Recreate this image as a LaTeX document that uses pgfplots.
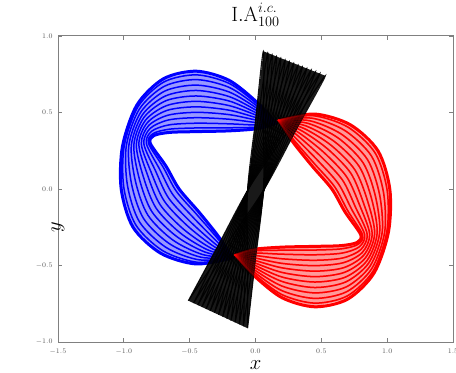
\documentclass[border=0pt]{standalone}
\usepackage{pgfplots}
\usepackage{pgfplotstable}
\pgfplotsset{compat=1.18}

% Orbit of body 1 (blue): 13 loops, 12 points each (columns xk yk = loop k)
\pgfplotstableread{
x0 y0 x1 y1 x2 y2 x3 y3 x4 y4 x5 y5 x6 y6 x7 y7 x8 y8 x9 y9 x10 y10 x11 y11 x12 y12
0.16 0.43 0.16 0.43 0.16 0.43 0.16 0.43 0.16 0.43 0.16 0.43 0.16 0.43 0.16 0.43 0.16 0.43 0.16 0.43 0.16 0.43 0.16 0.43 0.16 0.43
0.02 0.395 0.02 0.405 0.02 0.418 0.02 0.433 0.02 0.448 0.02 0.463 0.02 0.478 0.02 0.492 0.02 0.507 0.02 0.522 0.02 0.537 0.02 0.550 0.02 0.560
-0.20 0.380 -0.20 0.400 -0.20 0.426 -0.20 0.456 -0.20 0.486 -0.20 0.515 -0.20 0.545 -0.20 0.575 -0.20 0.604 -0.20 0.634 -0.20 0.664 -0.20 0.690 -0.20 0.710
-0.45 0.375 -0.45 0.399 -0.45 0.430 -0.45 0.466 -0.45 0.501 -0.45 0.537 -0.45 0.573 -0.45 0.608 -0.45 0.644 -0.45 0.679 -0.45 0.715 -0.45 0.746 -0.45 0.770
-0.650 0.370 -0.653 0.391 -0.657 0.419 -0.662 0.451 -0.666 0.482 -0.671 0.514 -0.675 0.545 -0.680 0.577 -0.684 0.608 -0.689 0.640 -0.693 0.671 -0.697 0.699 -0.700 0.720
-0.770 0.350 -0.778 0.362 -0.788 0.378 -0.800 0.396 -0.812 0.414 -0.823 0.432 -0.835 0.450 -0.847 0.468 -0.858 0.486 -0.870 0.504 -0.882 0.522 -0.892 0.538 -0.900 0.550
-0.800 0.300 -0.813 0.299 -0.829 0.297 -0.848 0.295 -0.867 0.294 -0.886 0.292 -0.905 0.290 -0.924 0.288 -0.943 0.286 -0.962 0.285 -0.981 0.283 -0.997 0.281 -1.010 0.280
-0.680 0.150 -0.700 0.141 -0.728 0.129 -0.758 0.116 -0.789 0.102 -0.819 0.089 -0.850 0.075 -0.881 0.062 -0.911 0.048 -0.942 0.035 -0.972 0.021 -1.000 0.009 -1.020 0.000
-0.580 0.000 -0.601 -0.015 -0.629 -0.035 -0.661 -0.058 -0.692 -0.080 -0.724 -0.103 -0.755 -0.125 -0.787 -0.148 -0.818 -0.170 -0.850 -0.193 -0.881 -0.215 -0.909 -0.235 -0.930 -0.250
-0.430 -0.150 -0.447 -0.166 -0.471 -0.188 -0.497 -0.212 -0.523 -0.236 -0.549 -0.261 -0.575 -0.285 -0.601 -0.309 -0.627 -0.334 -0.653 -0.358 -0.679 -0.382 -0.703 -0.404 -0.720 -0.420
-0.290 -0.300 -0.300 -0.311 -0.312 -0.327 -0.327 -0.344 -0.341 -0.361 -0.356 -0.378 -0.370 -0.395 -0.384 -0.412 -0.399 -0.429 -0.413 -0.446 -0.428 -0.463 -0.440 -0.479 -0.450 -0.490
-0.17 -0.45 -0.17 -0.45 -0.17 -0.45 -0.17 -0.45 -0.17 -0.45 -0.17 -0.45 -0.17 -0.45 -0.17 -0.45 -0.17 -0.45 -0.17 -0.45 -0.17 -0.45 -0.17 -0.45 -0.17 -0.45
}\blueorbit

% Orbit of body 2 (red)
\pgfplotstableread{
x0 y0 x1 y1 x2 y2 x3 y3 x4 y4 x5 y5 x6 y6 x7 y7 x8 y8 x9 y9 x10 y10 x11 y11 x12 y12
-0.16 -0.43 -0.16 -0.43 -0.16 -0.43 -0.16 -0.43 -0.16 -0.43 -0.16 -0.43 -0.16 -0.43 -0.16 -0.43 -0.16 -0.43 -0.16 -0.43 -0.16 -0.43 -0.16 -0.43 -0.16 -0.43
-0.02 -0.395 -0.02 -0.405 -0.02 -0.418 -0.02 -0.433 -0.02 -0.448 -0.02 -0.463 -0.02 -0.478 -0.02 -0.492 -0.02 -0.507 -0.02 -0.522 -0.02 -0.537 -0.02 -0.550 -0.02 -0.560
0.20 -0.380 0.20 -0.400 0.20 -0.426 0.20 -0.456 0.20 -0.486 0.20 -0.515 0.20 -0.545 0.20 -0.575 0.20 -0.604 0.20 -0.634 0.20 -0.664 0.20 -0.690 0.20 -0.710
0.45 -0.375 0.45 -0.399 0.45 -0.430 0.45 -0.466 0.45 -0.501 0.45 -0.537 0.45 -0.573 0.45 -0.608 0.45 -0.644 0.45 -0.679 0.45 -0.715 0.45 -0.746 0.45 -0.770
0.650 -0.370 0.653 -0.391 0.657 -0.419 0.662 -0.451 0.666 -0.482 0.671 -0.514 0.675 -0.545 0.680 -0.577 0.684 -0.608 0.689 -0.640 0.693 -0.671 0.697 -0.699 0.700 -0.720
0.770 -0.350 0.778 -0.362 0.788 -0.378 0.800 -0.396 0.812 -0.414 0.823 -0.432 0.835 -0.450 0.847 -0.468 0.858 -0.486 0.870 -0.504 0.882 -0.522 0.892 -0.538 0.900 -0.550
0.800 -0.300 0.813 -0.299 0.829 -0.297 0.848 -0.295 0.867 -0.294 0.886 -0.292 0.905 -0.290 0.924 -0.288 0.943 -0.286 0.962 -0.285 0.981 -0.283 0.997 -0.281 1.010 -0.280
0.680 -0.150 0.700 -0.141 0.728 -0.129 0.758 -0.116 0.789 -0.102 0.819 -0.089 0.850 -0.075 0.881 -0.062 0.911 -0.048 0.942 -0.035 0.972 -0.021 1.000 -0.009 1.020 0.000
0.580 0.000 0.601 0.015 0.629 0.035 0.661 0.058 0.692 0.080 0.724 0.103 0.755 0.125 0.787 0.148 0.818 0.170 0.850 0.193 0.881 0.215 0.909 0.235 0.930 0.250
0.430 0.150 0.447 0.166 0.471 0.188 0.497 0.212 0.523 0.236 0.549 0.261 0.575 0.285 0.601 0.309 0.627 0.334 0.653 0.358 0.679 0.382 0.703 0.404 0.720 0.420
0.290 0.300 0.300 0.311 0.312 0.327 0.327 0.344 0.341 0.361 0.356 0.378 0.370 0.395 0.384 0.412 0.399 0.429 0.413 0.446 0.428 0.463 0.440 0.479 0.450 0.490
0.17 0.45 0.17 0.45 0.17 0.45 0.17 0.45 0.17 0.45 0.17 0.45 0.17 0.45 0.17 0.45 0.17 0.45 0.17 0.45 0.17 0.45 0.17 0.45 0.17 0.45
}\redorbit

\pgfplotsset{
  bluethin/.style={draw=blue, line width=1.5bp, smooth},
  bluethick/.style={draw=blue, line width=3bp, smooth},
  redthin/.style={draw=red, line width=1.5bp, smooth},
  redthick/.style={draw=red, line width=3bp, smooth},
  blackloop/.style={draw=black, line width=1.1bp, smooth, opacity=0.9},
}

\begin{document}
\begin{tikzpicture}
\begin{axis}[
  scale only axis, width=395bp, height=306bp,
  xmin=-1.5, xmax=1.5, ymin=-1, ymax=1,
  xtick={-1.5,-1,-0.5,0,0.5,1,1.5},
  ytick={-1,-0.5,0,0.5,1},
  /pgf/number format/.cd, fixed, fixed zerofill, precision=1, /pgfplots/.cd,
  tick align=inside,
  major tick length=4bp,
  axis line style={black!50, line width=1bp},
  major tick style={black!50, line width=0.8bp},
  ticklabel style={font=\fontsize{7.5}{8}\selectfont, text=black!65},
  xticklabel style={yshift=-3bp},
  yticklabel style={xshift=-2bp},
  title={$\mathrm{I.A}^{i.c.}_{100}$},
  title style={font=\fontsize{22}{26}\selectfont, at={(0.5,1)}, anchor=base, yshift=9bp},
  xlabel={$x$},
  xlabel style={font=\fontsize{21}{24}\selectfont, at={(0.5,0)}, anchor=base, yshift=-27bp},
  ylabel={$y$},
  ylabel style={font=\fontsize{21}{24}\selectfont, at={(0,0.5)}, anchor=center, xshift=-38bp},
]
% body 1 (blue)
\addplot[fill=blue!40, draw=none] coordinates {
 (0.16,0.43) (0.02,0.56) (-0.20,0.71) (-0.45,0.77) (-0.70,0.72) (-0.90,0.55)
 (-1.01,0.28) (-1.02,0.00) (-0.93,-0.25) (-0.72,-0.42) (-0.45,-0.49) (-0.17,-0.45)
 (-0.29,-0.30) (-0.43,-0.15) (-0.58,0.00) (-0.68,0.15) (-0.80,0.30) (-0.77,0.35)
 (-0.65,0.37) (-0.45,0.375) (-0.20,0.38) (0.02,0.395)} -- cycle;
\pgfplotsinvokeforeach{1,...,11}{\addplot[bluethin] table[x=x#1, y=y#1] {\blueorbit};}
\addplot[bluethick] table[x=x0, y=y0] {\blueorbit};
\addplot[bluethick] table[x=x12, y=y12] {\blueorbit};

% body 2 (red)
\addplot[fill=red!40, draw=none] coordinates {
 (-0.16,-0.43) (-0.02,-0.56) (0.20,-0.71) (0.45,-0.77) (0.70,-0.72) (0.90,-0.55)
 (1.01,-0.28) (1.02,0.00) (0.93,0.25) (0.72,0.42) (0.45,0.49) (0.17,0.45)
 (0.29,0.30) (0.43,0.15) (0.58,0.00) (0.68,-0.15) (0.80,-0.30) (0.77,-0.35)
 (0.65,-0.37) (0.45,-0.375) (0.20,-0.38) (-0.02,-0.395)} -- cycle;
\pgfplotsinvokeforeach{1,...,11}{\addplot[redthin] table[x=x#1, y=y#1] {\redorbit};}
\addplot[redthick] table[x=x0, y=y0] {\redorbit};
\addplot[redthick] table[x=x12, y=y12] {\redorbit};

% body 3 (black)
\addplot[fill=black, draw=none, opacity=0.9] coordinates {
 (0.06,0.90) (0.53,0.74) (0.30,0.373) (0.07,0.005) (0.0,-0.458) (-0.06,-0.91)
 (-0.51,-0.73) (-0.28,-0.363) (-0.06,-0.005) (0.0,0.448)} -- cycle;
\addplot[blackloop] coordinates {(-0.06,-0.91) (0.0,-0.458) (0.060,-0.005) (0.06,0.448) (0.06,0.9) (0.0,0.448) (-0.060,-0.005) (-0.06,-0.458) (-0.06,-0.91)};
\addplot[blackloop] coordinates {(-0.092,-0.897) (-0.015,-0.451) (0.061,-0.004) (0.077,0.442) (0.093,0.889) (0.017,0.442) (-0.059,-0.004) (-0.075,-0.451) (-0.092,-0.897)};
\addplot[blackloop] coordinates {(-0.123,-0.885) (-0.031,-0.444) (0.061,-0.004) (0.094,0.437) (0.126,0.878) (0.034,0.437) (-0.059,-0.004) (-0.091,-0.444) (-0.123,-0.885)};
\addplot[blackloop] coordinates {(-0.155,-0.872) (-0.046,-0.438) (0.062,-0.003) (0.110,0.432) (0.159,0.866) (0.050,0.432) (-0.058,-0.003) (-0.106,-0.438) (-0.155,-0.872)};
\addplot[blackloop] coordinates {(-0.186,-0.860) (-0.062,-0.431) (0.063,-0.002) (0.127,0.427) (0.192,0.855) (0.067,0.427) (-0.057,-0.002) (-0.122,-0.431) (-0.186,-0.860)};
\addplot[blackloop] coordinates {(-0.218,-0.847) (-0.077,-0.424) (0.064,-0.002) (0.144,0.421) (0.225,0.844) (0.084,0.421) (-0.056,-0.002) (-0.137,-0.424) (-0.218,-0.847)};
\addplot[blackloop] coordinates {(-0.249,-0.834) (-0.092,-0.418) (0.064,-0.001) (0.161,0.416) (0.257,0.833) (0.101,0.416) (-0.056,-0.001) (-0.152,-0.418) (-0.249,-0.834)};
\addplot[blackloop] coordinates {(-0.281,-0.822) (-0.108,-0.411) (0.065,0.000) (0.178,0.411) (0.290,0.822) (0.118,0.411) (-0.055,0.000) (-0.168,-0.411) (-0.281,-0.822)};
\addplot[blackloop] coordinates {(-0.312,-0.809) (-0.123,-0.404) (0.066,0.001) (0.194,0.406) (0.323,0.810) (0.134,0.406) (-0.054,0.001) (-0.183,-0.404) (-0.312,-0.809)};
\addplot[blackloop] coordinates {(-0.344,-0.797) (-0.139,-0.398) (0.066,0.001) (0.211,0.400) (0.356,0.799) (0.151,0.400) (-0.054,0.001) (-0.199,-0.398) (-0.344,-0.797)};
\addplot[blackloop] coordinates {(-0.375,-0.784) (-0.154,-0.391) (0.067,0.002) (0.228,0.395) (0.389,0.788) (0.168,0.395) (-0.053,0.002) (-0.214,-0.391) (-0.375,-0.784)};
\addplot[blackloop] coordinates {(-0.407,-0.771) (-0.169,-0.384) (0.068,0.003) (0.245,0.390) (0.422,0.777) (0.185,0.390) (-0.052,0.003) (-0.229,-0.384) (-0.407,-0.771)};
\addplot[blackloop] coordinates {(-0.438,-0.759) (-0.185,-0.378) (0.068,0.003) (0.262,0.385) (0.455,0.766) (0.202,0.385) (-0.052,0.003) (-0.245,-0.378) (-0.438,-0.759)};
\addplot[blackloop] coordinates {(-0.470,-0.746) (-0.200,-0.371) (0.069,0.004) (0.278,0.379) (0.488,0.754) (0.218,0.379) (-0.051,0.004) (-0.260,-0.371) (-0.470,-0.746)};
\addplot[blackloop] coordinates {(-0.51,-0.73) (-0.22,-0.363) (0.07,0.005) (0.30,0.373) (0.53,0.74) (0.24,0.373) (-0.05,0.005) (-0.28,-0.363) (-0.51,-0.73)};

% red passes over the black band
\pgfplotsinvokeforeach{0,...,12}{\addplot[redthin, opacity=0.3] table[x=x#1, y=y#1] {\redorbit};}
\end{axis}
\pgfresetboundingbox
\path[use as bounding box] (current axis.south west) ++(-58bp,-31bp) rectangle ++(456bp,373bp);
\end{tikzpicture}
\end{document}
